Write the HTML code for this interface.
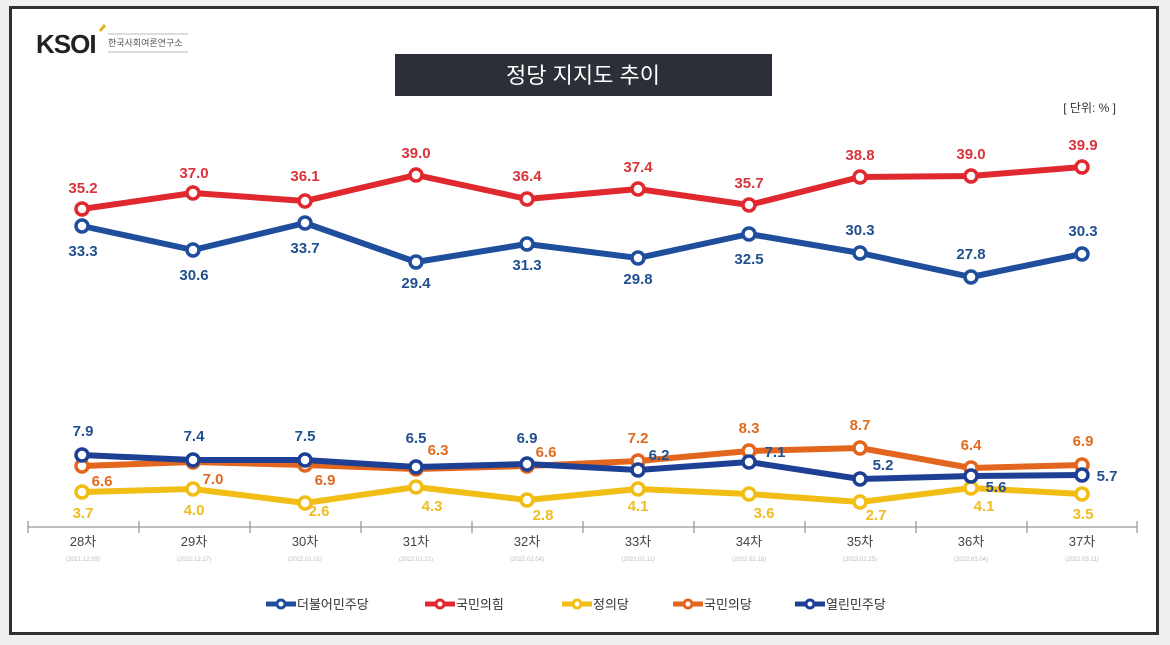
<!DOCTYPE html>
<html><head><meta charset="utf-8"><style>
body{margin:0;background:#eef0f0;width:1170px;height:645px;overflow:hidden;font-family:"Liberation Sans","Noto Sans CJK KR",sans-serif}
svg{display:block}
</style></head><body>
<svg width="1170" height="645" viewBox="0 0 1170 645" font-family="Liberation Sans, Noto Sans CJK KR, sans-serif">
<rect x="0" y="0" width="1170" height="645" fill="#eef0f0"/>
<rect x="10.5" y="7.5" width="1147" height="626" fill="#fff" stroke="#2e3033" stroke-width="3"/>
<!-- logo -->
<text x="36" y="53" font-size="26" font-weight="bold" fill="#222" letter-spacing="-1">KSOI</text>
<path d="M100 31 l5 -6" stroke="#e8b21c" stroke-width="3"/>
<text x="108" y="46" font-size="9" fill="#555">한국사회여론연구소</text>
<line x1="108" y1="34" x2="188" y2="34" stroke="#bbb"/><line x1="108" y1="52" x2="188" y2="52" stroke="#bbb"/>
<!-- title -->
<rect x="395" y="54" width="377" height="42" fill="#2b3038"/>
<text x="583" y="83" font-size="22" fill="#fff" text-anchor="middle">정당 지지도 추이</text>
<text x="1116" y="112" font-size="12" fill="#333" text-anchor="end">[ 단위: % ]</text>
<!-- axis -->
<g stroke="#999" stroke-width="1.3">
<line x1="28" y1="527" x2="1137" y2="527"/>
<line x1="28" y1="521" x2="28" y2="533"/><line x1="139" y1="521" x2="139" y2="533"/><line x1="250" y1="521" x2="250" y2="533"/><line x1="361" y1="521" x2="361" y2="533"/><line x1="472" y1="521" x2="472" y2="533"/><line x1="583" y1="521" x2="583" y2="533"/><line x1="694" y1="521" x2="694" y2="533"/><line x1="805" y1="521" x2="805" y2="533"/><line x1="916" y1="521" x2="916" y2="533"/><line x1="1027" y1="521" x2="1027" y2="533"/><line x1="1137" y1="521" x2="1137" y2="533"/>
</g>
<g font-size="13" fill="#444" text-anchor="middle">
<text x="83" y="546">28차</text><text x="194" y="546">29차</text><text x="305" y="546">30차</text><text x="416" y="546">31차</text><text x="527" y="546">32차</text><text x="638" y="546">33차</text><text x="749" y="546">34차</text><text x="860" y="546">35차</text><text x="971" y="546">36차</text><text x="1082" y="546">37차</text>
</g>
<g font-size="6" fill="#bbb" text-anchor="middle">
<text x="83" y="561">(2021.12.03)</text><text x="194" y="561">(2021.12.17)</text><text x="305" y="561">(2022.01.01)</text><text x="416" y="561">(2022.01.21)</text><text x="527" y="561">(2022.02.04)</text><text x="638" y="561">(2022.02.11)</text><text x="749" y="561">(2022.02.18)</text><text x="860" y="561">(2022.02.25)</text><text x="971" y="561">(2022.03.04)</text><text x="1082" y="561">(2022.03.11)</text>
</g>
<g fill="none" stroke-width="6" stroke-linejoin="round">
<polyline stroke="#e0282f" points="82,209 193,193 305,201 416,175 527,199 638,189 749,205 860,177 971,176 1082,167"/>
<polyline stroke="#1f4e9c" points="82,226 193,250 305,223 416,262 527,244 638,258 749,234 860,253 971,277 1082,254"/>
<polyline stroke="#e2661d" points="82,466 193,462 305,465 416,469 527,466 638,461 749,451 860,448 971,468 1082,465"/>
<polyline stroke="#f2bd14" points="82,492 193,489 305,503 416,487 527,500 638,489 749,494 860,502 971,488 1082,494"/>
<polyline stroke="#1d3f94" points="82,455 193,460 305,460 416,467 527,464 638,470 749,462 860,479 971,476 1082,475"/>
</g>
<g fill="#fff" stroke-width="3.5">
<g stroke="#e0282f"><circle cx="82" cy="209" r="6"/><circle cx="193" cy="193" r="6"/><circle cx="305" cy="201" r="6"/><circle cx="416" cy="175" r="6"/><circle cx="527" cy="199" r="6"/><circle cx="638" cy="189" r="6"/><circle cx="749" cy="205" r="6"/><circle cx="860" cy="177" r="6"/><circle cx="971" cy="176" r="6"/><circle cx="1082" cy="167" r="6"/></g>
<g stroke="#1f4e9c"><circle cx="82" cy="226" r="6"/><circle cx="193" cy="250" r="6"/><circle cx="305" cy="223" r="6"/><circle cx="416" cy="262" r="6"/><circle cx="527" cy="244" r="6"/><circle cx="638" cy="258" r="6"/><circle cx="749" cy="234" r="6"/><circle cx="860" cy="253" r="6"/><circle cx="971" cy="277" r="6"/><circle cx="1082" cy="254" r="6"/></g>
<g stroke="#e2661d"><circle cx="82" cy="466" r="6"/><circle cx="193" cy="462" r="6"/><circle cx="305" cy="465" r="6"/><circle cx="416" cy="469" r="6"/><circle cx="527" cy="466" r="6"/><circle cx="638" cy="461" r="6"/><circle cx="749" cy="451" r="6"/><circle cx="860" cy="448" r="6"/><circle cx="971" cy="468" r="6"/><circle cx="1082" cy="465" r="6"/></g>
<g stroke="#f2bd14"><circle cx="82" cy="492" r="6"/><circle cx="193" cy="489" r="6"/><circle cx="305" cy="503" r="6"/><circle cx="416" cy="487" r="6"/><circle cx="527" cy="500" r="6"/><circle cx="638" cy="489" r="6"/><circle cx="749" cy="494" r="6"/><circle cx="860" cy="502" r="6"/><circle cx="971" cy="488" r="6"/><circle cx="1082" cy="494" r="6"/></g>
<g stroke="#1d3f94"><circle cx="82" cy="455" r="6"/><circle cx="193" cy="460" r="6"/><circle cx="305" cy="460" r="6"/><circle cx="416" cy="467" r="6"/><circle cx="527" cy="464" r="6"/><circle cx="638" cy="470" r="6"/><circle cx="749" cy="462" r="6"/><circle cx="860" cy="479" r="6"/><circle cx="971" cy="476" r="6"/><circle cx="1082" cy="475" r="6"/></g>
</g>
<g font-size="15" font-weight="bold" text-anchor="middle">
<g fill="#d9343a"><text x="83" y="193">35.2</text><text x="194" y="178">37.0</text><text x="305" y="181">36.1</text><text x="416" y="158">39.0</text><text x="527" y="181">36.4</text><text x="638" y="172">37.4</text><text x="749" y="188">35.7</text><text x="860" y="160">38.8</text><text x="971" y="159">39.0</text><text x="1083" y="150">39.9</text></g>
<g fill="#21508f"><text x="83" y="256">33.3</text><text x="194" y="280">30.6</text><text x="305" y="253">33.7</text><text x="416" y="288">29.4</text><text x="527" y="270">31.3</text><text x="638" y="284">29.8</text><text x="749" y="264">32.5</text><text x="860" y="235">30.3</text><text x="971" y="259">27.8</text><text x="1083" y="236">30.3</text></g>
<g fill="#21508f"><text x="83" y="436">7.9</text><text x="194" y="441">7.4</text><text x="305" y="441">7.5</text><text x="416" y="443">6.5</text><text x="527" y="443">6.9</text><text x="659" y="460">6.2</text><text x="775" y="457">7.1</text><text x="883" y="470">5.2</text><text x="996" y="492">5.6</text><text x="1107" y="481">5.7</text></g>
<g fill="#e06a1f"><text x="102" y="486">6.6</text><text x="213" y="484">7.0</text><text x="325" y="485">6.9</text><text x="438" y="455">6.3</text><text x="546" y="457">6.6</text><text x="638" y="443">7.2</text><text x="749" y="433">8.3</text><text x="860" y="430">8.7</text><text x="971" y="450">6.4</text><text x="1083" y="446">6.9</text></g>
<g fill="#efbd22"><text x="83" y="518">3.7</text><text x="194" y="515">4.0</text><text x="319" y="516">2.6</text><text x="432" y="511">4.3</text><text x="543" y="520">2.8</text><text x="638" y="511">4.1</text><text x="764" y="518">3.6</text><text x="876" y="520">2.7</text><text x="984" y="511">4.1</text><text x="1083" y="519">3.5</text></g>
</g>
<!-- legend -->
<g stroke-width="5" fill="#fff">
<line x1="266" y1="604" x2="296" y2="604" stroke="#1f4e9c"/><circle cx="281" cy="604" r="4" stroke="#1f4e9c" stroke-width="3"/>
<line x1="425" y1="604" x2="455" y2="604" stroke="#e0282f"/><circle cx="440" cy="604" r="4" stroke="#e0282f" stroke-width="3"/>
<line x1="562" y1="604" x2="592" y2="604" stroke="#f2bd14"/><circle cx="577" cy="604" r="4" stroke="#f2bd14" stroke-width="3"/>
<line x1="673" y1="604" x2="703" y2="604" stroke="#e2661d"/><circle cx="688" cy="604" r="4" stroke="#e2661d" stroke-width="3"/>
<line x1="795" y1="604" x2="825" y2="604" stroke="#1d3f94"/><circle cx="810" cy="604" r="4" stroke="#1d3f94" stroke-width="3"/>
</g>
<g font-size="13" fill="#333">
<text x="297" y="609">더불어민주당</text><text x="456" y="609">국민의힘</text><text x="593" y="609">정의당</text><text x="704" y="609">국민의당</text><text x="826" y="609">열린민주당</text>
</g>
</svg>
</body></html>
